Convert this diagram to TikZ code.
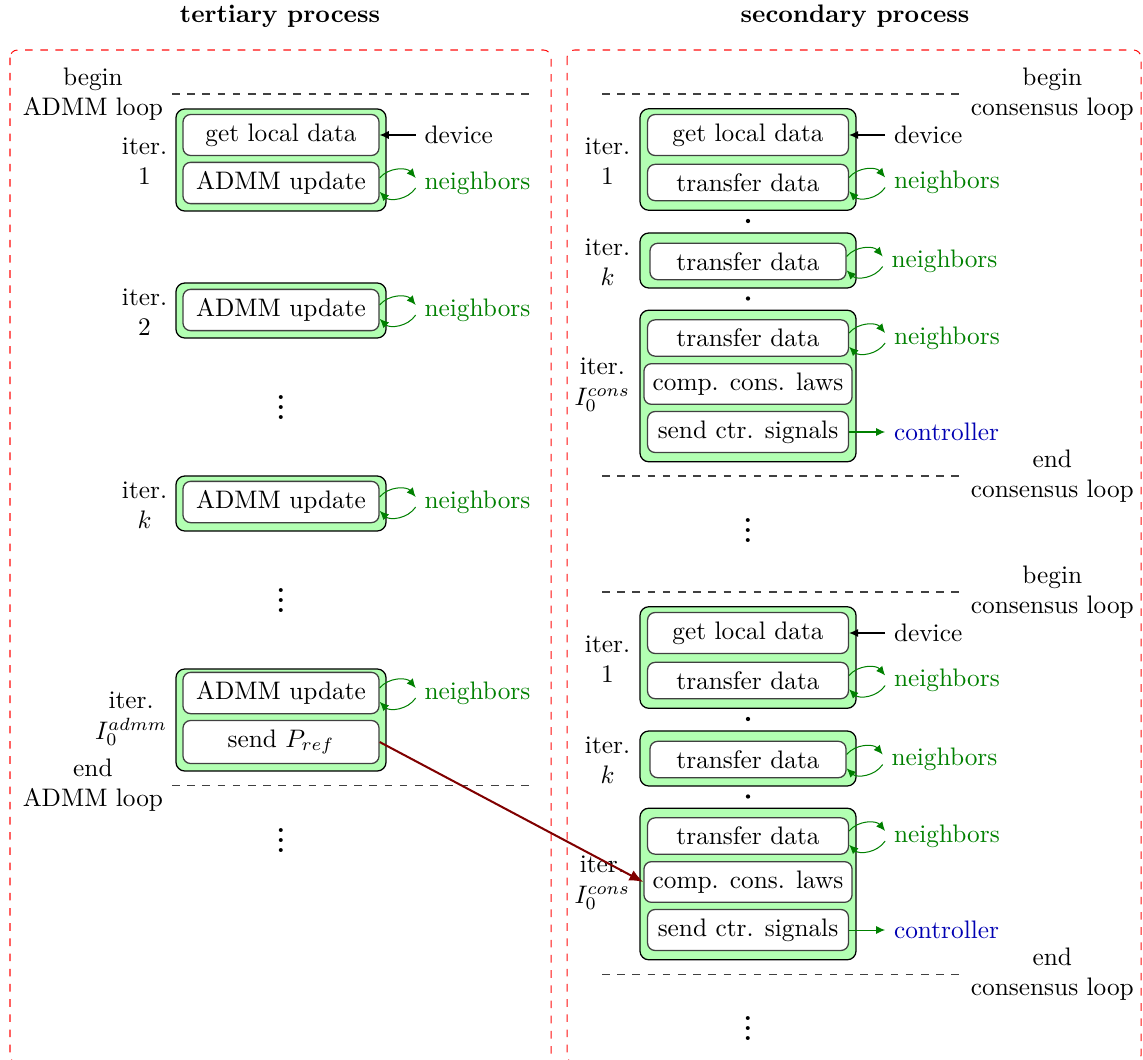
\documentclass[tikz,border=0pt]{standalone}
\usetikzlibrary{arrows.meta,positioning}
\begin{document}
\begin{tikzpicture}[x=0.01389cm, y=-0.01389cm,
  node distance=5mm,
  inbox/.style={draw=black!75, fill=white, rounded corners=3pt, inner xsep=3pt, inner ysep=3.6pt, line width=0.5pt},
  lin/.style={inbox, minimum width=2.722cm},
  rin/.style={inbox, minimum width=2.79cm},
  grp/.style={draw=black, fill=green!30, rounded corners=3.5pt, inner sep=0pt, line width=0.5pt},
  lgrp/.style={grp, minimum width=2.917cm},
  rgrp/.style={grp, minimum width=3.0cm},
  iterlbl/.style={align=center, anchor=east},
  looplbl/.style={align=center},
  nbtxt/.style={text=green!50!black},
  ctrtxt/.style={text=blue!70!black},
  vdotsnode/.style={font=\bfseries, inner sep=0pt},
  nbarr/.style={green!50!black, -{Latex[length=3.6pt,width=3.2pt]}},
  devarr/.style={black, -{Latex[length=3.6pt,width=3.2pt]}},
  ctrarr/.style={green!50!black, -{Latex[length=3.6pt,width=3.2pt]}},
  refarr/.style={red!50!black, thick, -{Latex[length=5.5pt,width=4.5pt]}},
  sep/.style={dashed, black!75, line width=0.4pt},
  frame/.style={dashed, red!95, rounded corners=3pt, line width=0.4pt},
  dotfill/.style={fill=black}
]
\newcommand\nbarrows[2]{%
  \draw[nbarr] ([yshift=2pt]#1.east) to[bend left=50] ([yshift=2pt]#2.west);
  \draw[nbarr] ([yshift=-2pt]#2.west) to[bend left=50] ([yshift=-3.5pt]#1.east);}
\useasboundingbox (0,0) rectangle (1143,1060);

% frames and titles
\draw[frame] (10,50) rectangle (551,1063);
\draw[frame] (567,50) rectangle (1141,1063);
\node[font=\bfseries] (t1) at (280,16) {tertiary process};
\node[font=\bfseries] (t2) at (855,16) {secondary process};

% ---------------- left column ----------------
\draw[sep] (172,94) -- (530,94);
\node[looplbl, anchor=east] (lbeg) at (172,94) {begin\\ADMM loop};

\node[lgrp, minimum height=1.417cm] (lg1) at (281,160) {};
\node[lin] (l1a) at (281,135) {get local data};
\node[lin] (l1b) at (281,183) {ADMM update};
\node[iterlbl] (li1) at (176,161) {iter.\\1};
\node[right=of l1a] (ldev) {device};
\node[nbtxt, right=of l1b] (lnb1) {neighbors};
\draw[devarr] (ldev.west) -- (l1a.east);
\nbarrows{l1b}{lnb1}

\node[lgrp, minimum height=0.764cm] (lg2) at (281,310.5) {};
\node[lin] (l2) at (281,310) {ADMM update};
\node[iterlbl] (li2) at (176,312) {iter.\\2};
\node[nbtxt, right=of l2] (lnb2) {neighbors};
\nbarrows{l2}{lnb2}

\node[vdotsnode] (lv1) at (281,400) {$\vdots$};

\node[lgrp, minimum height=0.764cm] (lgk) at (281,503.5) {};
\node[lin] (lk) at (281,502) {ADMM update};
\node[iterlbl] (lik) at (176,505) {iter.\\$k$};
\node[nbtxt, right=of lk] (lnbk) {neighbors};
\nbarrows{lk}{lnbk}

\node[vdotsnode] (lv2) at (281,593) {$\vdots$};

\node[lgrp, minimum height=1.417cm] (lgI) at (281,720) {};
\node[lin] (lIa) at (281,693) {ADMM update};
\node[lin] (lIb) at (281,742) {send $P_{ref}$};
\node[iterlbl] (liI) at (176,719) {iter.\\$I_0^{admm}$};
\node[nbtxt, right=of lIa] (lnbI) {neighbors};
\nbarrows{lIa}{lnbI}

\draw[sep] (172,785) -- (530,785);
\node[looplbl, anchor=east] (lend) at (172,785) {end\\ADMM loop};
\node[vdotsnode] (lv3) at (281,833) {$\vdots$};

% ---------------- right column ----------------
\foreach \g/\o in {a/0,b/498}{
  \draw[sep] (602,{94+\o}) -- (962,{94+\o});
  \node[looplbl, anchor=west] (rbeg-\g) at (962,{94+\o}) {begin\\consensus loop};

  \node[rgrp, minimum height=1.41cm] (rg1-\g) at (748,{159.5+\o}) {};
  \node[rin] (r1a-\g) at (748,{135+\o}) {get local data};
  \node[rin] (r1b-\g) at (748,{182.5+\o}) {transfer data};
  \node[iterlbl] (ri1-\g) at (639,{161+\o}) {iter.\\1};
  \node[right=of r1a-\g] (rdev-\g) {device};
  \node[nbtxt, right=of r1b-\g] (rnb1-\g) {neighbors};
  \draw[devarr] (rdev-\g.west) -- (r1a-\g.east);
  \nbarrows{r1b-\g}{rnb1-\g}

  \fill[dotfill] (748,{221+\o}) circle (0.85pt);

  \node[rgrp, minimum height=0.764cm] (rgk-\g) at (748,{260.5+\o}) {};
  \node[inbox, minimum width=2.722cm] (rk-\g) at (748,{261.5+\o}) {transfer data};
  \node[iterlbl] (rik-\g) at (639,{262+\o}) {iter.\\$k$};
  \node[nbtxt, right=of rk-\g] (rnbk-\g) {neighbors};
  \nbarrows{rk-\g}{rnbk-\g}

  \fill[dotfill] (748,{298.5+\o}) circle (0.85pt);

  \node[rgrp, minimum height=2.105cm] (rgI-\g) at (748,{386+\o}) {};
  \node[rin] (rIa-\g) at (748,{338+\o}) {transfer data};
  \node[inbox, minimum width=2.89cm] (rIb-\g) at (748,{384+\o}) {comp. cons. laws};
  \node[rin] (rIc-\g) at (748,{432+\o}) {send ctr. signals};
  \node[iterlbl] (riI-\g) at (639,{385+\o}) {iter.\\$I_0^{cons}$};
  \node[nbtxt, right=of rIa-\g] (rnbI-\g) {neighbors};
  \nbarrows{rIa-\g}{rnbI-\g}
  \node[ctrtxt, right=of rIc-\g] (rctr-\g) {controller};
  \draw[ctrarr] (rIc-\g.east) -- (rctr-\g.west);

  \draw[sep] (602,{476+\o}) -- (962,{476+\o});
  \node[looplbl, anchor=west] (rend-\g) at (962,{476+\o}) {end\\consensus loop};
  \node[vdotsnode] (rv-\g) at (748,{523+\o}) {$\vdots$};
}

% reference signal from tertiary to secondary
\draw[refarr] (lIb.east) -- (rIb-b.west);
\end{tikzpicture}
\end{document}
